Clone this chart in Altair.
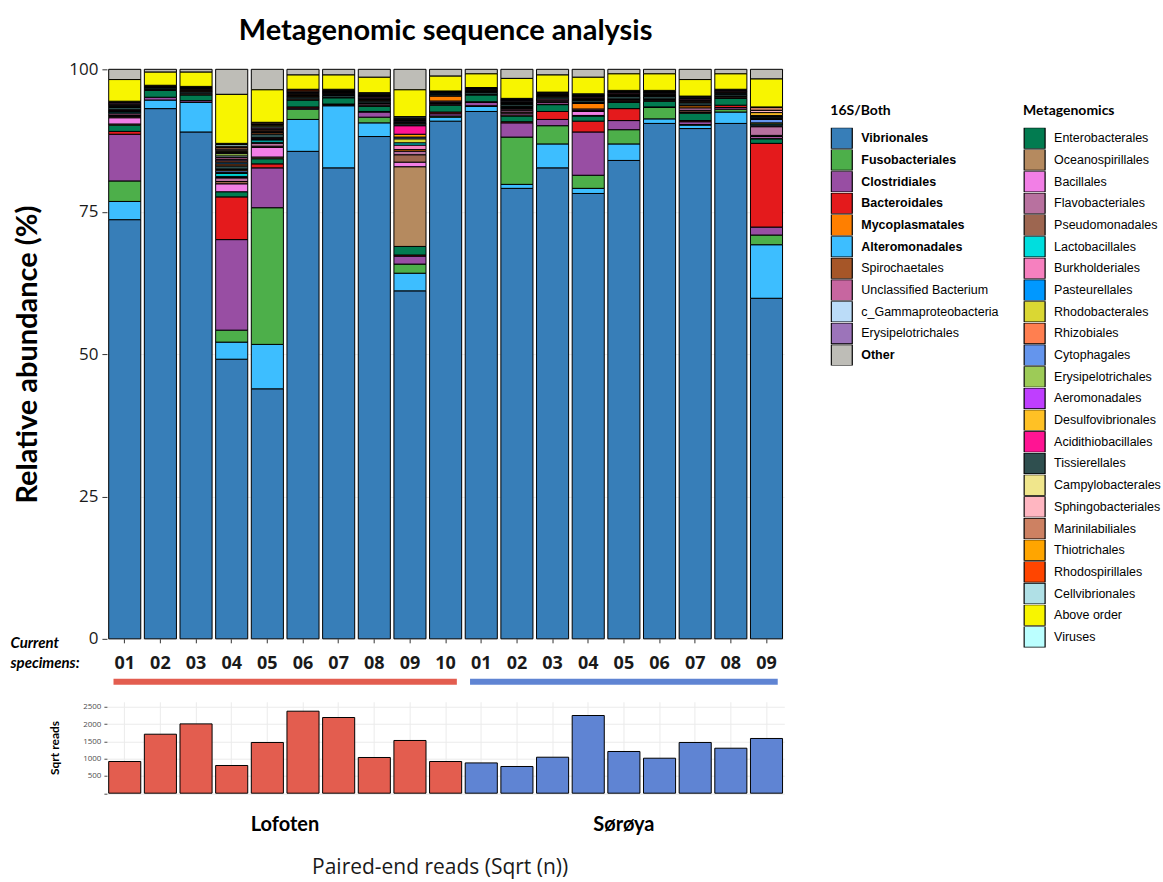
import altair as alt
import pandas as pd

# ---------------- data ----------------
samples = ["L01", "L02", "L03", "L04", "L05", "L06", "L07", "L08", "L09", "L10",
           "S01", "S02", "S03", "S04", "S05", "S06", "S07", "S08", "S09"]
sites = ["Lofoten", "Lofoten", "Lofoten", "Lofoten", "Lofoten", "Lofoten", "Lofoten", "Lofoten", "Lofoten", "Lofoten",
         "Sørøya", "Sørøya", "Sørøya", "Sørøya", "Sørøya", "Sørøya", "Sørøya", "Sørøya", "Sørøya"]
sqrt_reads = [919, 1710, 2009, 803, 1470, 2377, 2194, 1035, 1528, 919,
              878, 774, 1043, 2252, 1209, 1014, 1470, 1304, 1586]

# relative abundance (%) per taxon, one value per sample (L01..L10, S01..S09)
vibrionales = [73.6, 93.1, 89.0, 49.1, 43.9, 85.6, 82.7, 88.2, 61.1, 90.9, 92.6, 79.1, 82.7, 78.2, 84.0, 90.5, 89.6, 90.5, 59.8]
alteromonadales = [3.2, 1.5, 5.2, 3.0, 7.8, 5.6, 10.9, 2.4, 3.1, 0.7, 0.9, 0.7, 4.2, 0.9, 2.9, 0.8, 0.6, 2.0, 9.4]
fusobacteriales = [3.6, 0, 0, 2.1, 24.0, 1.8, 0.1, 1.0, 1.6, 0.2, 0.1, 8.3, 3.2, 2.3, 2.5, 2.0, 0.1, 0.5, 1.7]
clostridiales = [8.2, 0.5, 0.3, 15.9, 7.0, 0.2, 0.1, 0.9, 1.4, 0.4, 0.6, 2.5, 1.1, 7.6, 1.6, 0.1, 0.5, 0.3, 1.4]
bacteroidales = [0.5, 0, 0, 7.5, 0.7, 0.2, 0.1, 0.1, 0.2, 0.3, 0.1, 0.2, 1.4, 1.9, 2.1, 0, 0.2, 0.4, 14.7]
enterobacterales = [1.1, 1.2, 1.0, 0.9, 0.9, 1.2, 1.1, 0.9, 1.5, 1.2, 1.2, 1.0, 1.2, 0.9, 1.1, 1.0, 1.3, 1.2, 0.8]
oceanospirillales = [0.2, 0, 0, 0, 0.3, 0, 0, 0, 14.0, 0.1, 0, 0.2, 0.1, 0.1, 0.1, 0.1, 0.1, 0.1, 0.1]
bacillales = [1.1, 0, 0, 1.4, 1.7, 0, 0, 0, 0.8, 0.2, 0, 0.3, 0.3, 0.7, 0.1, 0, 0.1, 0, 0.3]
pseudomonadales = [0.2, 0.1, 0.2, 0.4, 0.2, 0.2, 0.1, 0.2, 1.3, 0.2, 0.1, 0.2, 0.2, 0.2, 0.2, 0.2, 0.3, 0.2, 0.2]
flavobacteriales = [0.2, 0, 0, 0.6, 0.5, 0, 0, 0.2, 0.6, 0.2, 0, 0.3, 0.2, 0.2, 0.1, 0.1, 0.4, 0.1, 1.5]
mycoplasmatales = [0.1, 0.1, 0, 0.1, 0.1, 0, 0, 0.1, 0.3, 0.9, 0, 0.1, 0, 1.0, 0.1, 0, 0.4, 0, 0.1]
burkholderiales = [0.3, 0, 0, 0.2, 0.1, 0, 0, 0.1, 0.8, 0, 0, 0.2, 0.2, 0.1, 0, 0, 0.1, 0, 0.2]
lactobacillales = [0.2, 0, 0, 0.5, 0.4, 0, 0, 0, 0.4, 0, 0, 0.1, 0, 0.1, 0, 0, 0, 0, 0.2]
rhodobacterales = [0.1, 0, 0, 0.2, 0.1, 0, 0, 0, 0.7, 0, 0, 0.1, 0, 0, 0, 0, 0, 0, 0.2]
cytophagales = [0.1, 0, 0, 0.3, 0.1, 0, 0, 0, 0.3, 0, 0, 0.1, 0, 0, 0, 0, 0, 0, 0.6]
thiotrichales = [0.1, 0, 0, 0.2, 0.1, 0, 0, 0, 0.5, 0, 0, 0.1, 0, 0, 0, 0, 0, 0, 0.1]
acidithiobacillales = [0.1, 0, 0, 0.1, 0.1, 0, 0, 0, 1.5, 0, 0, 0, 0, 0, 0, 0, 0, 0, 0.1]
tissierellales = [0.4, 0.2, 0.3, 0.5, 0.6, 0.3, 0.3, 0.3, 0.3, 0.2, 0.3, 0.3, 0.3, 0.3, 0.4, 0.4, 0.4, 0.3, 0.2]
spirochaetales = [0.2, 0.1, 0.2, 0.4, 0.3, 0.2, 0.2, 0.2, 0.2, 0.1, 0.2, 0.2, 0.2, 0.2, 0.2, 0.2, 0.2, 0.2, 0.1]
pasteurellales = [0.1, 0.1, 0.1, 0.3, 0.2, 0.1, 0.1, 0.1, 0.1, 0.1, 0.1, 0.1, 0.1, 0.1, 0.1, 0.1, 0.1, 0.1, 0.1]
rhizobiales = [0.1, 0.1, 0.1, 0.2, 0.2, 0.2, 0.1, 0.1, 0, 0, 0.1, 0, 0.1, 0.1, 0.1, 0.1, 0.1, 0.1, 0]
erysipelotrichales_16s = [0.2, 0, 0, 0.3, 0.2, 0.1, 0, 0.2, 0.1, 0, 0, 0.1, 0, 0.1, 0.1, 0, 0.1, 0, 0]
unclassified_bacterium = [0.2, 0.1, 0.1, 0.3, 0.2, 0.1, 0.1, 0.2, 0.2, 0.1, 0.1, 0.2, 0.1, 0.2, 0.2, 0.2, 0.2, 0.2, 0.1]
c_gammaproteobacteria = [0.1, 0, 0.1, 0.3, 0.2, 0.1, 0.1, 0.1, 0.1, 0.1, 0.1, 0.1, 0.1, 0.1, 0.1, 0.1, 0.1, 0.1, 0]
erysipelotrichales_meta = [0, 0, 0, 0.4, 0.2, 0, 0.1, 0.1, 0, 0, 0, 0, 0, 0, 0, 0, 0, 0, 0]
aeromonadales = [0.1, 0.1, 0.1, 0.2, 0.1, 0.1, 0.1, 0.1, 0.1, 0.1, 0.1, 0.1, 0.1, 0.1, 0.1, 0.1, 0.1, 0.1, 0]
desulfovibrionales = [0.1, 0, 0.1, 0.2, 0.1, 0, 0.1, 0.1, 0, 0, 0, 0, 0, 0, 0, 0, 0, 0, 0.5]
campylobacterales = [0, 0, 0.1, 0.2, 0.1, 0, 0, 0.1, 0, 0, 0, 0, 0, 0, 0, 0, 0, 0, 0]
sphingobacteriales = [0, 0, 0, 0.2, 0, 0, 0, 0, 0, 0, 0, 0, 0, 0, 0, 0, 0, 0, 0.4]
marinilabiliales = [0, 0, 0.1, 0.3, 0.2, 0.2, 0.1, 0.1, 0.2, 0.1, 0.1, 0.1, 0.1, 0.1, 0.1, 0.1, 0.1, 0, 0.5]
rhodospirillales = [0, 0, 0, 0.2, 0, 0.2, 0, 0, 0, 0, 0, 0, 0, 0, 0, 0, 0, 0, 0]
cellvibrionales = [0, 0, 0, 0.3, 0.1, 0.1, 0, 0.1, 0.1, 0, 0, 0.1, 0, 0.1, 0, 0.1, 0.1, 0, 0]
viruses = [0, 0, 0, 0.2, 0, 0, 0.1, 0, 0.2, 0.1, 0.1, 0.1, 0.1, 0.1, 0.1, 0.1, 0.1, 0.1, 0.1]
above_order = [3.8, 2.3, 2.5, 8.6, 5.7, 2.5, 2.5, 2.7, 4.7, 2.6, 2.4, 3.5, 3.0, 2.9, 2.9, 2.9, 2.9, 2.7, 4.9]
other = [1.8, 0.5, 0.5, 4.4, 3.6, 1.0, 1.0, 1.4, 3.6, 1.2, 0.8, 1.6, 1.0, 1.4, 0.8, 0.8, 1.8, 0.8, 1.7]

# legends (order and colours)
taxa_16s = ["Vibrionales", "Fusobacteriales", "Clostridiales", "Bacteroidales", "Mycoplasmatales",
            "Alteromonadales", "Spirochaetales", "Unclassified Bacterium", "c_Gammaproteobacteria",
            "Erysipelotrichales", "Other"]
colors_16s = ["#377EB8", "#4DAF4A", "#984EA3", "#E41A1C", "#FF7F00", "#3DBEFF", "#A65628",
              "#C766A0", "#BBDCF8", "#9C74BA", "#BEBDB7"]
bold_16s = ["Vibrionales", "Fusobacteriales", "Clostridiales", "Bacteroidales", "Mycoplasmatales",
            "Alteromonadales", "Other"]
taxa_meta = ["Enterobacterales", "Oceanospirillales", "Bacillales", "Flavobacteriales", "Pseudomonadales",
             "Lactobacillales", "Burkholderiales", "Pasteurellales", "Rhodobacterales", "Rhizobiales",
             "Cytophagales", "Erysipelotrichales", "Aeromonadales", "Desulfovibrionales", "Acidithiobacillales",
             "Tissierellales", "Campylobacterales", "Sphingobacteriales", "Marinilabiliales", "Thiotrichales",
             "Rhodospirillales", "Cellvibrionales", "Above order", "Viruses"]
colors_meta = ["#027B50", "#B58A5F", "#F27FE6", "#B8719F", "#9D6650", "#00DEDE", "#F680BF", "#0098FF",
               "#DAD733", "#FF7F50", "#6495ED", "#9DCB57", "#BF3EFF", "#FFC125", "#FF1493", "#2F4F4F",
               "#F0E68C", "#FFB6C1", "#CD8162", "#FFA500", "#FF4500", "#B0E0E6", "#F8F500", "#BBFFFF"]

# stacking order, bottom to top: (legend, taxon, values)
stack_order = [
    ("16S/Both", "Vibrionales", vibrionales),
    ("16S/Both", "Alteromonadales", alteromonadales),
    ("16S/Both", "Fusobacteriales", fusobacteriales),
    ("16S/Both", "Clostridiales", clostridiales),
    ("16S/Both", "Bacteroidales", bacteroidales),
    ("Metagenomics", "Enterobacterales", enterobacterales),
    ("Metagenomics", "Oceanospirillales", oceanospirillales),
    ("Metagenomics", "Bacillales", bacillales),
    ("Metagenomics", "Pseudomonadales", pseudomonadales),
    ("Metagenomics", "Flavobacteriales", flavobacteriales),
    ("16S/Both", "Mycoplasmatales", mycoplasmatales),
    ("Metagenomics", "Burkholderiales", burkholderiales),
    ("Metagenomics", "Lactobacillales", lactobacillales),
    ("Metagenomics", "Rhodobacterales", rhodobacterales),
    ("Metagenomics", "Cytophagales", cytophagales),
    ("Metagenomics", "Thiotrichales", thiotrichales),
    ("Metagenomics", "Acidithiobacillales", acidithiobacillales),
    ("Metagenomics", "Tissierellales", tissierellales),
    ("16S/Both", "Spirochaetales", spirochaetales),
    ("Metagenomics", "Pasteurellales", pasteurellales),
    ("Metagenomics", "Rhizobiales", rhizobiales),
    ("16S/Both", "Erysipelotrichales", erysipelotrichales_16s),
    ("16S/Both", "Unclassified Bacterium", unclassified_bacterium),
    ("16S/Both", "c_Gammaproteobacteria", c_gammaproteobacteria),
    ("Metagenomics", "Erysipelotrichales", erysipelotrichales_meta),
    ("Metagenomics", "Aeromonadales", aeromonadales),
    ("Metagenomics", "Desulfovibrionales", desulfovibrionales),
    ("Metagenomics", "Campylobacterales", campylobacterales),
    ("Metagenomics", "Sphingobacteriales", sphingobacteriales),
    ("Metagenomics", "Marinilabiliales", marinilabiliales),
    ("Metagenomics", "Rhodospirillales", rhodospirillales),
    ("Metagenomics", "Cellvibrionales", cellvibrionales),
    ("Metagenomics", "Viruses", viruses),
    ("Metagenomics", "Above order", above_order),
    ("16S/Both", "Other", other),
]

site_names = ["Lofoten", "Sørøya"]
site_colors = ["#E35D4F", "#5F84D3"]
site_first = ["L01", "S01"]
site_last = ["L10", "S09"]

rows = []
for k, (legend_set, taxon, vals) in enumerate(stack_order):
    for s, v in zip(samples, vals):
        rows.append({"sample": s, "set": legend_set, "taxon": taxon, "value": v, "order": k})
abund = pd.DataFrame(rows)
reads_df = pd.DataFrame({"sample": samples, "reads": sqrt_reads, "site": sites})
rules_df = pd.DataFrame({"sample": site_first, "end": site_last, "site": site_names})

# ---------------- styling ----------------
COND = "Lato, sans-serif"
SANS = "Liberation Sans, Arial, sans-serif"
OPEN = "Open Sans, sans-serif"
W = 678
H = 570

x_scale = alt.Scale(domain=samples, paddingInner=0.1, paddingOuter=0.05)

x_axis_main = alt.Axis(
    title=["Current", "specimens:"], titleX=-97, titleY=-3, titleAlign="left", titleAnchor="start",
    titleBaseline="top", titleAngle=0, titleFont=COND, titleFontSize=15, titleFontStyle="italic",
    titleFontWeight="bold", titleLineHeight=20, titleColor="black",
    labelExpr="substring(datum.value, 1)", labelFont=OPEN, labelFontSize=18, labelFontWeight="bold",
    labelColor="#1a1a1a", labelPadding=12, labelAngle=0, tickSize=4, tickColor="#333333",
    domain=False, grid=False)
y_axis_main = alt.Axis(
    title="Relative abundance (%)", titleX=-79, titleY=H / 2, titleAngle=270, titleAlign="center",
    titleBaseline="middle", titleFont=COND, titleFontSize=29, titleFontWeight="bold", titleColor="black",
    values=[0, 25, 50, 75, 100], labelFont=OPEN, labelFontSize=17, labelColor="#1a1a1a", labelPadding=4,
    tickSize=5, tickColor="#333333", domain=False, grid=True, gridColor="#efefef")

x_enc = alt.X("sample:N", scale=x_scale, axis=x_axis_main)
y_enc = alt.Y("y0:Q", scale=alt.Scale(domain=[0, 100], nice=False), axis=y_axis_main)

bold_expr = "indexof(" + str(bold_16s) + ", datum.label) >= 0 ? 'bold' : 'normal'"

legend_common = dict(orient="none", symbolType="square", symbolSize=441, symbolStrokeColor="black",
                     symbolStrokeWidth=1.2, symbolOpacity=1, labelFont=SANS, labelFontSize=12.5,
                     labelColor="black", labelOffset=8, rowPadding=0.7, clipHeight=21, titleFont=COND,
                     titleFontSize=14, titleFontWeight="bold", titleColor="black", titlePadding=9.5,
                     padding=0, labelLimit=250, legendY=35)

base = alt.Chart().transform_filter("datum.value > 0").transform_stack(
    stack="value", groupby=["sample"], as_=["y0", "y1"],
    sort=[alt.SortField("order", order="ascending")])

bars_16s = base.transform_filter("datum.set == '16S/Both'").mark_bar(
    stroke="black", strokeWidth=1).encode(
    x=x_enc, y=y_enc, y2="y1:Q",
    color=alt.Color("taxon:N", scale=alt.Scale(domain=taxa_16s, range=colors_16s),
                    legend=alt.Legend(title="16S/Both", legendX=724,
                                      labelFontWeight=alt.ExprRef(expr=bold_expr), **legend_common)))

bars_meta = base.transform_filter("datum.set == 'Metagenomics'").mark_bar(
    stroke="black", strokeWidth=1).encode(
    x=x_enc, y=y_enc, y2="y1:Q",
    color=alt.Color("taxon:N", scale=alt.Scale(domain=taxa_meta, range=colors_meta),
                    legend=alt.Legend(title="Metagenomics", legendX=917, labelFontWeight="normal",
                                      **legend_common)))

group_rules = alt.Chart(rules_df).mark_rule(strokeWidth=6).encode(
    x=alt.X("sample:N", scale=x_scale, axis=x_axis_main, bandPosition=0.15),
    x2=alt.X2("end:N", bandPosition=0.85),
    y=alt.value(613),
    color=alt.Color("site:N", scale=alt.Scale(domain=site_names, range=site_colors), legend=None))

main = alt.layer(bars_16s, bars_meta, data=abund).resolve_scale(color="independent")
main = alt.layer(main, group_rules).resolve_scale(color="independent").properties(
    width=W, height=H,
    title=alt.Title("Metagenomic sequence analysis", font=COND, fontSize=29, fontWeight="bold",
                    color="black", anchor="middle", frame="group", offset=14))

# ---------------- bottom panel ----------------
BH = 91.5
label_expr = "datum.value == 'L06' ? 'Lofoten' : (datum.value == 'S05' ? 'Sørøya' : '')"
bottom = alt.Chart(reads_df).mark_bar(stroke="black", strokeWidth=1).encode(
    x=alt.X("sample:N", scale=x_scale, axis=alt.Axis(
        title="Paired-end reads (Sqrt (n))", titleX=333, titleY=74, titleAlign="center",
        titleBaseline="middle", titleFont=OPEN, titleFontSize=21, titleFontWeight="normal",
        titleColor="#1a1a1a", labelExpr=label_expr,
        labelOffset={"condition": {"test": "datum.value == 'L06'", "value": -18}, "value": 0},
        labelPadding=21, labelFont=COND, labelFontSize=20, labelFontWeight="bold", labelColor="black",
        labelAngle=0, labelOverlap=False, ticks=False, tickSize=0, domain=False, grid=True,
        gridColor="#ebebeb")),
    y=alt.Y("reads:Q", scale=alt.Scale(domain=[0, 2650], nice=False), axis=alt.Axis(
        title="Sqrt reads", titleX=-52, titleY=BH / 2, titleAngle=270, titleAlign="center",
        titleBaseline="middle", titleFont=COND, titleFontSize=12, titleFontWeight="bold",
        titleColor="black", values=[0, 500, 1000, 1500, 2000, 2500], format="d",
        labelExpr="datum.value == 0 ? '' : datum.label", labelFont=OPEN, labelFontSize=8,
        labelColor="#4d4d4d", labelPadding=3, tickSize=3, tickColor="#4d4d4d", domain=False,
        grid=True, gridColor="#ebebeb")),
    color=alt.Color("site:N", scale=alt.Scale(domain=site_names, range=site_colors), legend=None),
).properties(width=W, height=BH)

chart = alt.vconcat(main, bottom, spacing=17).resolve_scale(color="independent").properties(
    padding={"left": 10, "top": 17, "right": 2, "bottom": 2}, background="white"
).configure_view(stroke=None)

chart.save("out.html", embed_options={"renderer": "svg", "actions": False})
